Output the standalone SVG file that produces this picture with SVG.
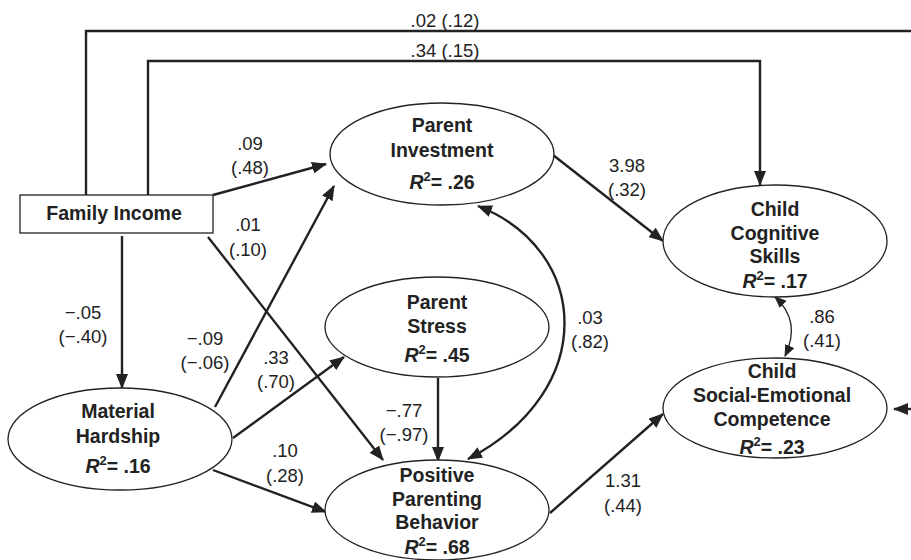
<svg xmlns="http://www.w3.org/2000/svg" width="911" height="560" viewBox="0 0 911 560">
<style>
.node{fill:#fff;stroke:#222;stroke-width:1.3}
.nt{font-family:"Liberation Sans",Arial,sans-serif;font-weight:bold;font-size:19.5px;fill:#222;text-anchor:middle}
.lb{font-family:"Liberation Sans",Arial,sans-serif;font-size:18.5px;fill:#222;text-anchor:middle}
.c{fill:none;stroke:#222;stroke-width:2.4}
.thin{fill:none;stroke:#222;stroke-width:1.3}
.it{font-style:italic}
.sup{font-size:13px}
</style>
<defs>
<marker id="ah" markerUnits="userSpaceOnUse" markerWidth="15" markerHeight="12" refX="14" refY="6" orient="auto-start-reverse">
<path d="M0,0 L15,6 L0,12 z" fill="#222"/>
</marker>
<marker id="ahs" markerUnits="userSpaceOnUse" markerWidth="12" markerHeight="10" refX="11" refY="5" orient="auto-start-reverse">
<path d="M0,0 L12,5 L0,10 z" fill="#222"/>
</marker>
</defs>
<g id="connectors">
<polyline class="c" points="86,195 86,31 911,31"/>
<polyline class="c" points="148,195 148,61 760,61 760,185" marker-end="url(#ah)"/>
<line class="c" x1="911" y1="409" x2="894" y2="409" marker-end="url(#ah)"/>
<line class="c" x1="122" y1="236" x2="122" y2="388" marker-end="url(#ah)"/>
<line class="c" x1="213" y1="195" x2="326" y2="164" marker-end="url(#ah)"/>
<line class="c" x1="208" y1="237" x2="383" y2="460" marker-end="url(#ah)"/>
<line class="c" x1="215" y1="407" x2="334" y2="186" marker-end="url(#ah)"/>
<line class="c" x1="233" y1="438" x2="344" y2="357" marker-end="url(#ah)"/>
<line class="c" x1="213" y1="470" x2="326" y2="512" marker-end="url(#ah)"/>
<line class="c" x1="438" y1="378" x2="438" y2="461" marker-end="url(#ah)"/>
<line class="c" x1="553" y1="155" x2="663" y2="241" marker-end="url(#ah)"/>
<line class="c" x1="550" y1="513" x2="663" y2="414" marker-end="url(#ah)"/>
<path class="c" d="M478,206 C590,250 600,390 468,459" marker-start="url(#ah)" marker-end="url(#ah)"/>
<path class="thin" d="M775,297 C795,315 795,335 785,356" marker-start="url(#ahs)" marker-end="url(#ahs)"/>
</g>
<g id="labels">
<text class="lb" x="445" y="27">.02 (.12)</text>
<text class="lb" x="445" y="57">.34 (.15)</text>
<text class="lb" x="250" y="150">.09</text>
<text class="lb" x="250" y="174">(.48)</text>
<text class="lb" x="248" y="231">.01</text>
<text class="lb" x="248" y="256">(.10)</text>
<text class="lb" x="83" y="319">−.05</text>
<text class="lb" x="83" y="343">(−.40)</text>
<text class="lb" x="205" y="345">−.09</text>
<text class="lb" x="205" y="369">(−.06)</text>
<text class="lb" x="276" y="364">.33</text>
<text class="lb" x="276" y="388">(.70)</text>
<text class="lb" x="285" y="457">.10</text>
<text class="lb" x="285" y="482">(.28)</text>
<text class="lb" x="404" y="417">−.77</text>
<text class="lb" x="404" y="441">(−.97)</text>
<text class="lb" x="627" y="172">3.98</text>
<text class="lb" x="627" y="196">(.32)</text>
<text class="lb" x="590" y="324">.03</text>
<text class="lb" x="590" y="348">(.82)</text>
<text class="lb" x="822" y="323">.86</text>
<text class="lb" x="822" y="347">(.41)</text>
<text class="lb" x="623" y="487">1.31</text>
<text class="lb" x="623" y="512">(.44)</text>
</g>
<g id="family-income">
<rect class="node" x="20" y="195" width="193" height="38"/>
<text class="nt" x="114" y="220">Family Income</text>
</g>
<g id="material-hardship">
<ellipse class="node" cx="120" cy="439" rx="112" ry="51"/>
<text class="nt" x="118" y="418">Material</text>
<text class="nt" x="118" y="443">Hardship</text>
<text class="nt" x="118" y="473"><tspan class="it">R</tspan><tspan class="sup" dy="-8">2</tspan><tspan dy="8">= .16</tspan></text>
</g>
<g id="parent-investment">
<ellipse class="node" cx="442" cy="154" rx="112" ry="51"/>
<text class="nt" x="442" y="132">Parent</text>
<text class="nt" x="442" y="157">Investment</text>
<text class="nt" x="442" y="189"><tspan class="it">R</tspan><tspan class="sup" dy="-8">2</tspan><tspan dy="8">= .26</tspan></text>
</g>
<g id="parent-stress">
<ellipse class="node" cx="437" cy="327" rx="112" ry="50"/>
<text class="nt" x="437" y="309">Parent</text>
<text class="nt" x="437" y="333">Stress</text>
<text class="nt" x="437" y="362"><tspan class="it">R</tspan><tspan class="sup" dy="-8">2</tspan><tspan dy="8">= .45</tspan></text>
</g>
<g id="positive-parenting">
<ellipse class="node" cx="437" cy="510" rx="112" ry="50"/>
<text class="nt" x="437" y="482">Positive</text>
<text class="nt" x="437" y="506">Parenting</text>
<text class="nt" x="437" y="529">Behavior</text>
<text class="nt" x="437" y="554"><tspan class="it">R</tspan><tspan class="sup" dy="-8">2</tspan><tspan dy="8">= .68</tspan></text>
</g>
<g id="child-cognitive">
<ellipse class="node" cx="775" cy="241" rx="112" ry="56"/>
<text class="nt" x="775" y="216">Child</text>
<text class="nt" x="775" y="240">Cognitive</text>
<text class="nt" x="775" y="263">Skills</text>
<text class="nt" x="775" y="288"><tspan class="it">R</tspan><tspan class="sup" dy="-8">2</tspan><tspan dy="8">= .17</tspan></text>
</g>
<g id="child-social-emotional">
<ellipse class="node" cx="775" cy="408" rx="112" ry="50"/>
<text class="nt" x="772" y="378">Child</text>
<text class="nt" x="772" y="402">Social-Emotional</text>
<text class="nt" x="772" y="426">Competence</text>
<text class="nt" x="772" y="454"><tspan class="it">R</tspan><tspan class="sup" dy="-8">2</tspan><tspan dy="8">= .23</tspan></text>
</g>
</svg>
